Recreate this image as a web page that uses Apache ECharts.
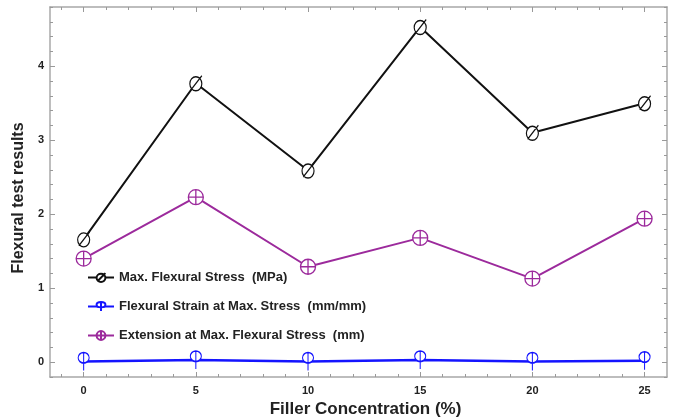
<!DOCTYPE html>
<html>
<head>
<meta charset="utf-8">
<title>Flexural test results</title>
<script src="https://cdn.jsdelivr.net/npm/echarts@6/dist/echarts.min.js"></script>
<style>
    html, body { margin: 0; padding: 0; background: #fff; }
    #flexChart { width: 675px; height: 418px; }
</style>
</head>
<body>
<div id="flexChart"></div>
<script>
// 数据：填料浓度 (%)
var fillerConc = [0, 5, 10, 15, 20, 25];
// 最大弯曲应力 (MPa)
var maxStress = [1.66, 3.77, 2.59, 4.53, 3.10, 3.50];
// 最大应力处的弯曲应变 (mm/mm)
var strainAtMax = [0.01, 0.03, 0.01, 0.03, 0.01, 0.02];
// 最大弯曲应力处的伸长 (mm)
var extension = [1.40, 2.23, 1.29, 1.68, 1.13, 1.94];

// 刻度
var xMajorTicks = [0, 5, 10, 15, 20, 25];
var xMinorTicks = [-1, 1, 2, 3, 4, 6, 7, 8, 9, 11, 12, 13, 14, 16, 17, 18, 19, 21, 22, 23, 24];
var yMajorTicks = [0, 1, 2, 3, 4];
var yMinorTicks = [-0.2, 0.2, 0.4, 0.6, 0.8, 1.2, 1.4, 1.6, 1.8, 2.2, 2.4, 2.6, 2.8, 3.2, 3.4, 3.6, 3.8, 4.2, 4.4, 4.6, 4.8];

var seriesNames = [
    'Max. Flexural Stress  (MPa)',
    'Flexural Strain at Max. Stress  (mm/mm)',
    'Extension at Max. Flexural Stress  (mm)'
];

function pairs(ys) {
    return fillerConc.map(function (x, i) { return [x, ys[i]]; });
}

// 标记形状
var symStress = 'path://M0,-7 A5,7 0 1,1 0,7 A5,7 0 1,1 0,-7 Z M-4,6 L5,-8';
var symStrain = 'path://M-5,-2 A5,5 0 1,1 5,-2 A5,5 0 1,1 -5,-2 Z M0,-7 L0,10';
var symExt = 'path://M-7,0 A7,7 0 1,1 7,0 A7,7 0 1,1 -7,0 Z M-7,0 L7,0 M0,-7 L0,7';

var frameColor = '#a8a8a8';
var labelFont = { fontFamily: 'Liberation Sans', fontWeight: 'bold', fontSize: 11, color: '#222' };
var titleFont = { fontFamily: 'Liberation Sans', fontWeight: 'bold', fontSize: 17, color: '#222' };

// 坐标轴（含上/右镜像刻度）
function xAxisOf(pos, ticks, len, showLabel, showLine) {
    return {
        type: 'value', position: pos, min: -1.5, max: 26,
        axisLine: { show: showLine, onZero: false, lineStyle: { color: frameColor, width: 1.5 } },
        axisTick: { show: true, inside: true, length: len, customValues: ticks, lineStyle: { color: '#999' } },
        axisLabel: Object.assign({ show: showLabel, customValues: ticks, margin: 8 }, labelFont),
        splitLine: { show: false }
    };
}
function yAxisOf(pos, ticks, len, showLabel, showLine) {
    return {
        type: 'value', position: pos, min: -0.2, max: 4.8,
        axisLine: { show: showLine, onZero: false, lineStyle: { color: frameColor, width: 1.5 } },
        axisTick: { show: true, inside: true, length: len, customValues: ticks, lineStyle: { color: '#999' } },
        axisLabel: Object.assign({ show: showLabel, customValues: ticks, margin: 6 }, labelFont),
        splitLine: { show: false }
    };
}

var xAxes = [
    xAxisOf('bottom', xMajorTicks, 5, true, true),
    xAxisOf('bottom', xMinorTicks, 3, false, false),
    xAxisOf('top', xMajorTicks, 5, false, true),
    xAxisOf('top', xMinorTicks, 3, false, false)
];
xAxes[0].name = 'Filler Concentration (%)';
xAxes[0].nameLocation = 'middle';
xAxes[0].nameGap = 21;
xAxes[0].nameTextStyle = Object.assign({ padding: [0, 0, 0, 14] }, titleFont);

var yAxes = [
    yAxisOf('left', yMajorTicks, 5, true, true),
    yAxisOf('left', yMinorTicks, 3, false, false),
    yAxisOf('right', yMajorTicks, 5, false, true),
    yAxisOf('right', yMinorTicks, 3, false, false)
];
yAxes[0].name = 'Flexural test results';
yAxes[0].nameLocation = 'middle';
yAxes[0].nameGap = 22;
yAxes[0].nameTextStyle = Object.assign({ padding: [0, 12, 0, 0] }, titleFont, { fontSize: 16 });

function lineSeries(name, ys, color, sym, size, width) {
    return {
        name: name,
        type: 'line',
        data: pairs(ys),
        symbol: sym,
        symbolSize: size,
        showAllSymbol: true,
        lineStyle: { color: color, width: width },
        itemStyle: { color: '#fff', borderColor: color, borderWidth: 1.3 },
        emphasis: { disabled: true }
    };
}

var chart = echarts.init(document.getElementById('flexChart'));
var option = {
    animation: false,
    grid: { left: 50, right: 8, top: 7, bottom: 41, outerBoundsMode: 'none' },
    legend: {
        orient: 'vertical',
        left: 82,
        top: 266,
        itemWidth: 26,
        itemHeight: 11,
        itemGap: 16,
        textStyle: { fontFamily: 'Liberation Sans', fontWeight: 'bold', fontSize: 13, color: '#222' },
        data: seriesNames
    },
    xAxis: xAxes,
    yAxis: yAxes,
    series: [
        lineSeries(seriesNames[0], maxStress, '#111111', symStress, [12, 15], 2),
        lineSeries(seriesNames[1], strainAtMax, '#1414ff', symStrain, [11, 18], 2.5),
        lineSeries(seriesNames[2], extension, '#9c2a9c', symExt, 15, 2)
    ]
};
chart.setOption(option);
</script>
</body>
</html>
